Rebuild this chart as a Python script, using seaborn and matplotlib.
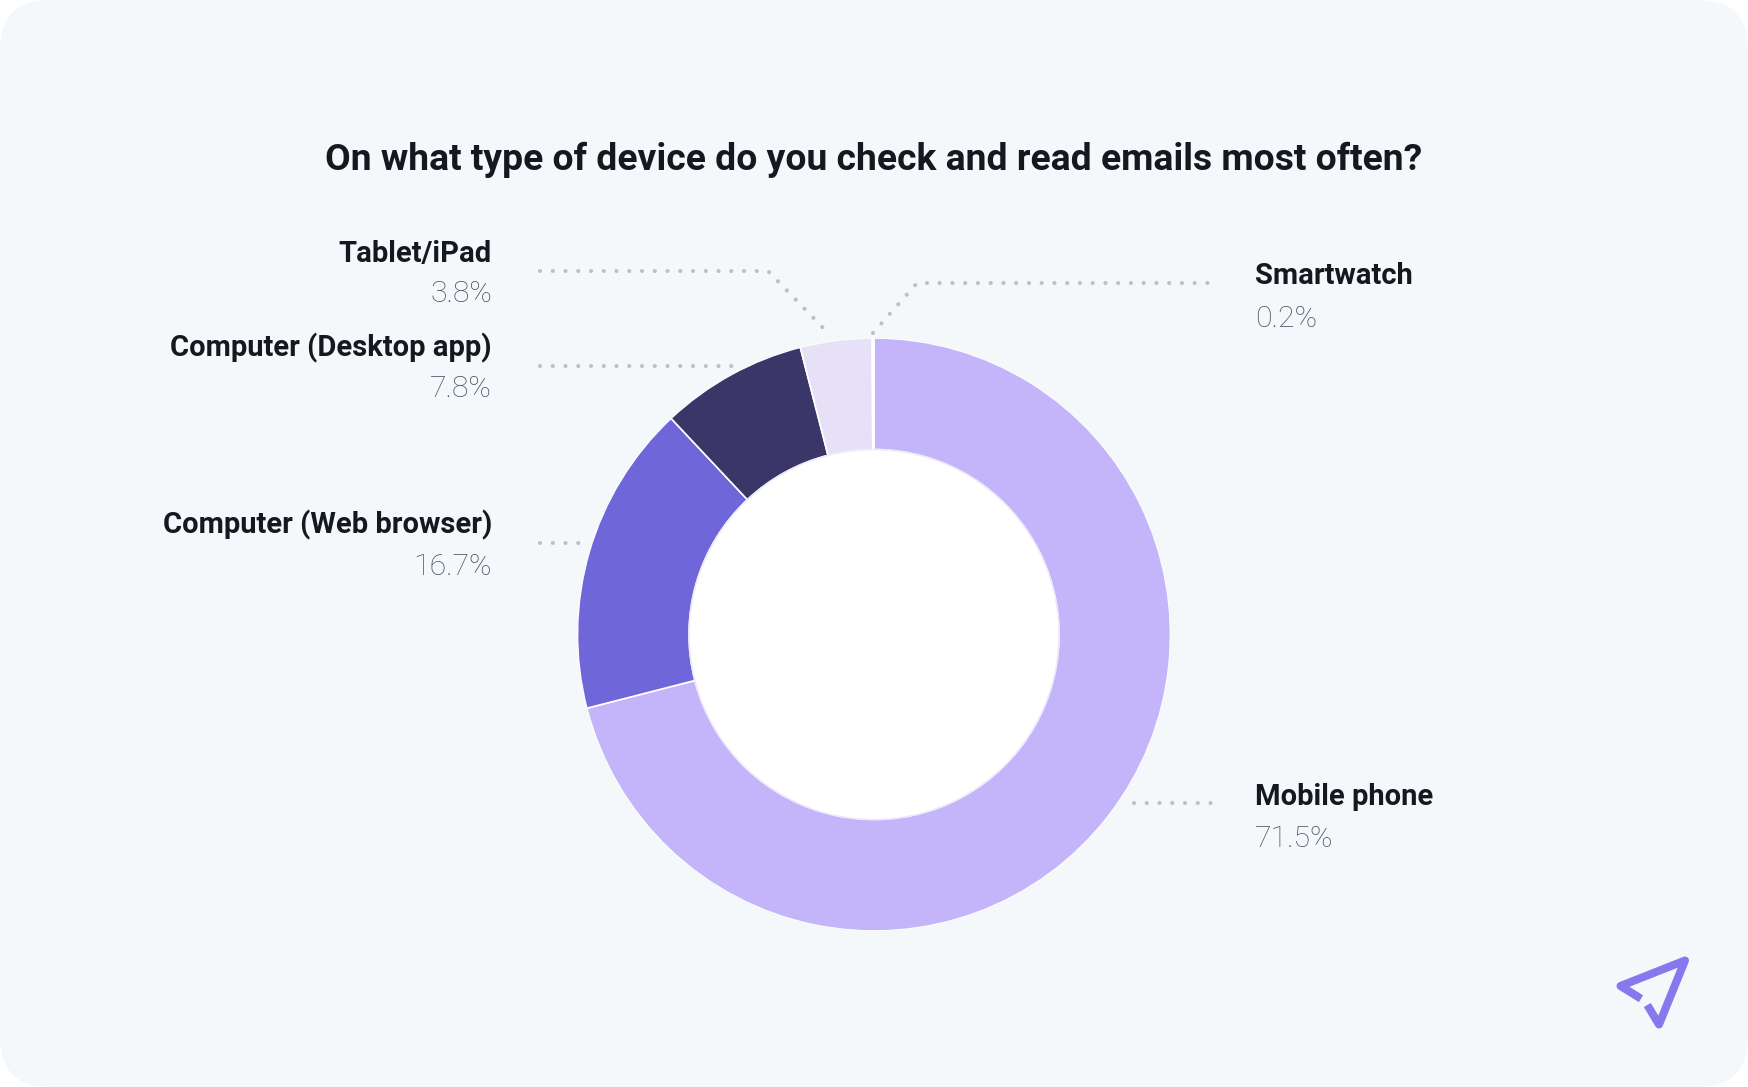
import matplotlib
matplotlib.use("Agg")
import matplotlib.pyplot as plt
from matplotlib.patches import FancyBboxPatch, Circle
import seaborn as sns

title = "On what type of device do you check and read emails most often?"
devices = ["Mobile phone", "Computer (Web browser)", "Computer (Desktop app)", "Tablet/iPad", "Smartwatch"]
# Percentages as printed in the reference's labels
printed_shares = [71.5, 16.7, 7.8, 3.8, 0.2]
# Arc sizes as actually drawn in the reference (read from the slice boundaries)
drawn_shares = [71.0, 17.0, 8.0, 3.9, 0.1]
colors = ["#C4B5FA", "#6F66D9", "#3A3768", "#E7E1F7", "#FFFFFF"]

W, H = 1748, 1087
sns.set_theme(style="white")
plt.rcParams["font.family"] = ["Roboto", "DejaVu Sans"]
palette = sns.color_palette(colors)

fig = plt.figure(figsize=(W / 100, H / 100), dpi=100, facecolor="white")
ax = fig.add_axes([0, 0, 1, 1])
ax.set_axis_off()
Y = lambda y: H - y

ax.add_patch(FancyBboxPatch((45, 45), W - 90, H - 90, boxstyle="round,pad=45,rounding_size=50",
                            fc="#F4F8FB", ec="none", zorder=0))

cx, cy, R, r = 874, 634.5, 296.5, 185
ax.pie(drawn_shares, colors=palette, startangle=90, counterclock=False, center=(cx, Y(cy)), radius=R,
       wedgeprops=dict(width=R - r, edgecolor="none", linewidth=0), frame=True)
for w in ax.patches[1:]:
    w.set_edgecolor("white")
    w.set_linewidth(1.2)
ax.add_patch(Circle((cx, Y(cy)), R + 0.8, fc="none", ec="#F4F8FB", lw=1.2, zorder=2.5))
ax.add_patch(Circle((cx, Y(cy)), r, fc="white", ec="#ECE8FB", lw=1, zorder=3))
ax.set_xlim(0, W)
ax.set_ylim(0, H)
ax.set_aspect("auto")
ax.set_axis_off()

ax.text(874, Y(160), title, ha="center", va="center", fontsize=26.8, fontweight="bold", color="#14191F")

labels = {
    "Tablet/iPad": (492, 254, 294, "right"),
    "Computer (Desktop app)": (492, 348, 389, "right"),
    "Computer (Web browser)": (492, 525, 567, "right"),
    "Smartwatch": (1255, 276, 319, "left"),
    "Mobile phone": (1255, 797, 839, "left"),
}
for name, val in zip(devices, printed_shares):
    x, y1, y2, ha = labels[name]
    ax.text(x, Y(y1), name, ha=ha, va="center", fontsize=21, fontweight="bold", color="#14191F")
    ax.text(x, Y(y2), f"{val}%", ha=ha, va="center", fontsize=21.8, fontweight="light", color="#46535F")

leaders = [
    [(540, 271), (768, 271), (830, 335)],
    [(540, 366), (737, 366)],
    [(540, 543), (582, 543)],
    [(873, 333), (917, 283), (1211, 283)],
    [(1134, 803), (1212, 803)],
]
for pts in leaders:
    ax.plot([p[0] for p in pts], [Y(p[1]) for p in pts], color="#B8C2C9", lw=3.0,
            linestyle=(0, (0.01, 3.05)), dash_capstyle="round", zorder=2)

logo = [(1641, 998.7), (1620.5, 986), (1685, 960.5), (1659, 1024.5), (1647.3, 1005)]
ax.plot([p[0] for p in logo], [Y(p[1]) for p in logo], color="#8878EE", lw=5.8,
        solid_joinstyle="round", solid_capstyle="butt", zorder=2)

fig.savefig("out.png", dpi=100, facecolor="white")
